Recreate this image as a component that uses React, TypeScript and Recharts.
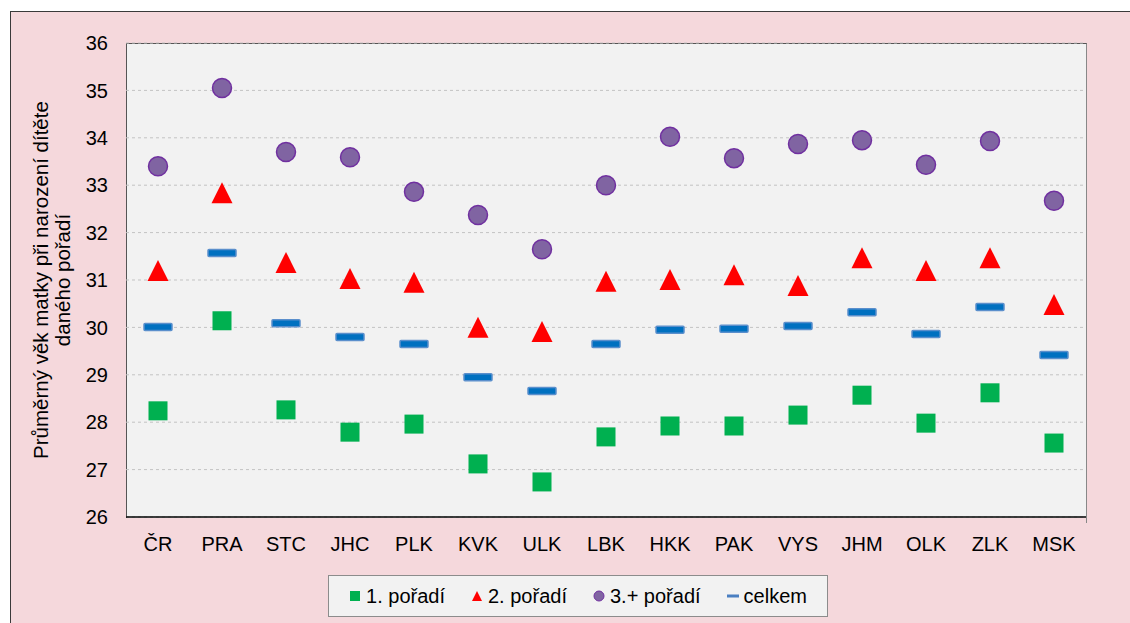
import React from 'react';
import { ComposedChart, Line, XAxis, YAxis, CartesianGrid } from 'recharts';

const regions = ['ČR', 'PRA', 'STC', 'JHC', 'PLK', 'KVK', 'ULK', 'LBK', 'HKK', 'PAK', 'VYS', 'JHM', 'OLK', 'ZLK', 'MSK'];
const first = [28.24, 30.14, 28.26, 27.79, 27.96, 27.12, 26.74, 27.69, 27.92, 27.92, 28.15, 28.57, 27.98, 28.62, 27.56];
const second = [31.17, 32.81, 31.34, 31.0, 30.92, 29.97, 29.88, 30.94, 30.98, 31.08, 30.85, 31.44, 31.17, 31.44, 30.45];
const thirdPlus = [33.4, 35.05, 33.7, 33.59, 32.86, 32.37, 31.65, 33.0, 34.02, 33.57, 33.87, 33.95, 33.43, 33.93, 32.67];
const total = [30.01, 31.57, 30.09, 29.8, 29.65, 28.95, 28.66, 29.65, 29.95, 29.97, 30.03, 30.32, 29.86, 30.43, 29.42];
const yTicks = [26, 27, 28, 29, 30, 31, 32, 33, 34, 35, 36];

const data = regions.map((name, i) => ({
  name,
  first: first[i],
  second: second[i],
  thirdPlus: thirdPlus[i],
  total: total[i],
}));

const font = '"Liberation Sans", Arial, sans-serif';

const Square = (p: any) => {
  if (p.cx == null || p.cy == null) return null;
  return <rect key={p.key} x={p.cx - 9.5} y={p.cy - 9.5} width={19} height={19} fill="#00b050" />;
};
const Triangle = (p: any) => {
  if (p.cx == null || p.cy == null) return null;
  const { cx, cy } = p;
  return <polygon key={p.key} points={`${cx},${cy - 12} ${cx + 10.5},${cy + 9} ${cx - 10.5},${cy + 9}`} fill="#ff0000" />;
};
const Circle = (p: any) => {
  if (p.cx == null || p.cy == null) return null;
  return <circle key={p.key} cx={p.cx} cy={p.cy} r={9.5} fill="#8064a2" stroke="#7030a0" strokeWidth={1.5} />;
};
const Dash = (p: any) => {
  if (p.cx == null || p.cy == null) return null;
  return <rect key={p.key} x={p.cx - 14} y={p.cy - 3.5} width={28} height={7} rx={1} fill="#0070c0" stroke="#5b8fcc" strokeWidth={1.5} />;
};

// legend order as in the original
const legendItems = [
  { label: '1. pořadí', icon: <rect x={1} y={1} width={10} height={10} fill="#00b050" /> },
  { label: '2. pořadí', icon: <polygon points="6,1 11,11 1,11" fill="#ff0000" /> },
  { label: '3.+ pořadí', icon: <circle cx={6} cy={6} r={5} fill="#8064a2" stroke="#7030a0" strokeWidth={1} /> },
  { label: 'celkem', icon: <rect x={0} y={4.5} width={12} height={3} fill="#4a7fc1" /> },
];

const LegendBox = () => (
  <div
    style={{
      position: 'absolute',
      left: 328,
      top: 575,
      width: 500,
      height: 42,
      boxSizing: 'border-box',
      background: '#f2f2f2',
      border: '1px solid #8c8c8c',
      display: 'flex',
      alignItems: 'center',
      justifyContent: 'center',
      gap: 26,
      fontSize: 20,
      color: '#000',
    }}
  >
    {legendItems.map((it) => (
      <span key={it.label} style={{ display: 'flex', alignItems: 'center', gap: 5 }}>
        <svg width={12} height={12}>{it.icon}</svg>
        {it.label}
      </span>
    ))}
  </div>
);

export default function App() {
  return (
    <div style={{ position: 'absolute', left: 0, top: 0, width: 1130, height: 623, overflow: 'hidden', fontFamily: font }}>
      <div
        style={{
          position: 'absolute',
          left: 10,
          top: 11,
          width: 1130,
          height: 630,
          background: '#f5d8dc',
          border: '1px solid #3a3a3a',
        }}
      />
      <div
        style={{
          position: 'absolute',
          left: 126,
          top: 43,
          width: 961,
          height: 480,
          background: '#f2f2f2',
          borderTop: '1px solid #555',
          borderLeft: '1px solid #555',
          borderRight: '1px solid #888',
          boxSizing: 'border-box',
        }}
      />
      <div style={{ position: 'absolute', left: 126, top: 518, width: 960, height: 10, background: '#f5d8dc' }} />
      <div
        style={{
          position: 'absolute',
          left: 53 - 250,
          top: 280 - 23,
          width: 500,
          height: 46,
          transform: 'rotate(-90deg)',
          textAlign: 'center',
          fontSize: 20.5,
          lineHeight: '22px',
          color: '#000',
        }}
      >
        Průměrný věk matky při narození dítěte
        <br />
        daného pořadí
      </div>
      <div style={{ position: 'absolute', left: 0, top: 0 }}>
        <ComposedChart
          width={1130}
          height={623}
          data={data}
          margin={{ top: 43, right: 44, bottom: 76, left: 66 }}
        >
          <CartesianGrid horizontal vertical={false} strokeDasharray="3 3" stroke="#c3c3c3" />
          <XAxis
            dataKey="name"
            type="category"
            scale="band"
            height={30}
            axisLine={{ stroke: '#000', strokeWidth: 1.5 }}
            tickLine={false}
            tickMargin={14}
            tick={{ fill: '#000', fontSize: 20, fontFamily: font }}
            interval={0}
          />
          <YAxis
            type="number"
            domain={[26, 36]}
            ticks={yTicks}
            width={60}
            axisLine={false}
            tickLine={false}
            tickMargin={12}
            tick={{ fill: '#000', fontSize: 20, fontFamily: font }}
            interval={0}
          />
          <Line dataKey="total" name="celkem" stroke="none" dot={Dash} activeDot={false} isAnimationActive={false} />
          <Line dataKey="first" name="1. pořadí" stroke="none" dot={Square} activeDot={false} isAnimationActive={false} />
          <Line dataKey="second" name="2. pořadí" stroke="none" dot={Triangle} activeDot={false} isAnimationActive={false} />
          <Line dataKey="thirdPlus" name="3.+ pořadí" stroke="none" dot={Circle} activeDot={false} isAnimationActive={false} />
        </ComposedChart>
      </div>
      <LegendBox />
    </div>
  );
}
